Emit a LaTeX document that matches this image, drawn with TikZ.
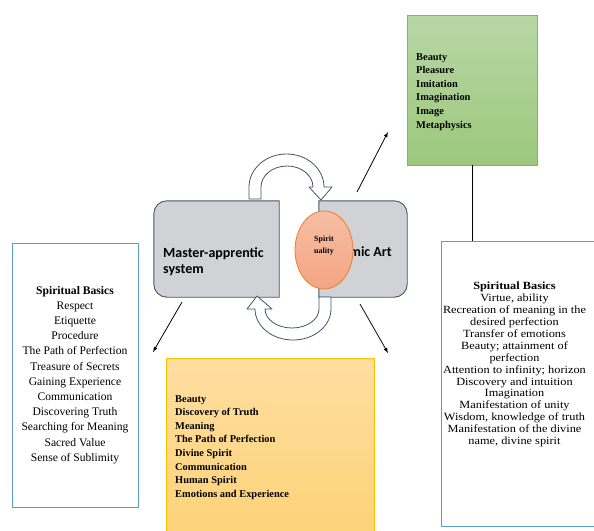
\documentclass[tikz,border=0pt]{standalone}
\usepackage{fontspec}
\setmainfont{Liberation Serif}
\newfontfamily\calibfont{Carlito}
\newfontfamily\widefont[FakeStretch=1.12]{Liberation Serif}
\usetikzlibrary{shapes}
\definecolor{slate}{RGB}{68,84,106}
\definecolor{boxgray}{RGB}{208,210,214}
\definecolor{lineblue}{RGB}{91,155,213}
\definecolor{greentop}{RGB}{184,215,166}
\definecolor{greenbot}{RGB}{156,200,124}
\definecolor{greenline}{RGB}{130,180,100}
\definecolor{goldtop}{RGB}{254,222,160}
\definecolor{goldbot}{RGB}{253,210,120}
\definecolor{goldline}{RGB}{255,192,0}
\definecolor{salmontop}{RGB}{247,190,165}
\definecolor{salmonbot}{RGB}{244,165,130}
\definecolor{salmonline}{RGB}{237,125,49}

\begin{document}
\begin{tikzpicture}[x=1pt,y=1pt]
    \tikzstyle{basics}=[rectangle, draw=lineblue, line width=0.8pt]
    \tikzstyle{grayblock}=[draw=slate, fill=boxgray, line width=0.9pt]
    \tikzstyle{list}=[font=\bfseries\fontsize{10.4}{13.6}\selectfont, align=left, anchor=north west, inner sep=0pt]
    \tikzstyle{uturn}=[draw=slate, fill=white, line width=0.8pt, line join=round]
    \tikzstyle{link}=[-latex, line width=0.8pt]

    \useasboundingbox (0,0) rectangle (594,-530);
    \clip (0,0) rectangle (594,-530);

    \node[basics, minimum width=126, minimum height=264, align=center, font=\fontsize{11.6}{15.2}\selectfont] (leftbasics) at (75,-375)
        {\textbf{Spiritual Basics}\\Respect\\Etiquette\\Procedure\\The Path of Perfection\\Treasure of Secrets\\Gaining Experience\\Communication\\Discovering Truth\\Searching for Meaning\\Sacred Value\\Sense of Sublimity};

    \node[basics, minimum width=156, minimum height=285] (rightbasics) at (519,-383.5) {};
    \node[align=center, font=\widefont\fontsize{11}{11.9}\selectfont] (rightlist) at (514.5,-364.5)
        {\textbf{Spiritual Basics}\\Virtue, ability\\Recreation of meaning in the\\desired perfection\\Transfer of emotions\\Beauty; attainment of\\perfection\\Attention to infinity; horizon\\Discovery and intuition\\Imagination\\Manifestation of unity\\Wisdom, knowledge of truth\\Manifestation of the divine\\name, divine spirit};

    \node[draw=greenline, top color=greentop, bottom color=greenbot, minimum width=130, minimum height=150] (forms) at (472,-90) {};
    \node[list] (formslist) at (416,-53) {Beauty\\Pleasure\\Imitation\\Imagination\\Image\\Metaphysics};

    \node[draw=goldline, line width=0.8pt, top color=goldtop, bottom color=goldbot, minimum width=208, minimum height=182] (values) at (270,-449) {};
    \node[list] (valueslist) at (175,-395) {Beauty\\Discovery of Truth\\Meaning\\The Path of Perfection\\Divine Spirit\\Communication\\Human Spirit\\Emotions and Experience};

    \draw[line width=0.8pt] (forms.south) -- (forms.south |- rightbasics.north);

    \node[minimum width=125, minimum height=96] (master) at (216.5,-249) {};
    \filldraw[grayblock] (master.north east) -- ([xshift=13]master.north west) arc[start angle=90, end angle=180, radius=13]
        -- ([yshift=13]master.south west) arc[start angle=180, end angle=270, radius=13] -- (master.south east) -- cycle;
    \node[font=\calibfont\bfseries\fontsize{14}{16.6}\selectfont, align=left, anchor=north west, inner sep=0pt] (masterlbl) at (163,-247) {Master-apprentic\\system};

    \node[minimum width=88, minimum height=96] (art) at (363,-249) {};
    \filldraw[grayblock] (art.north west) -- ([xshift=-13]art.north east) arc[start angle=90, end angle=0, radius=13]
        -- ([yshift=13]art.south east) arc[start angle=0, end angle=-90, radius=13] -- (art.south west) -- cycle;
    \node[font=\calibfont\bfseries\fontsize{14}{16.6}\selectfont, anchor=base east, inner sep=0pt] (artlbl) at (392,-256.7) {mic Art};

    \filldraw[uturn] (249,-199) -- (249,-187) arc[start angle=180, end angle=0, x radius=37.5, y radius=33]
        -- (332,-187) -- (321,-200) -- (309,-187) -- (313,-187)
        arc[start angle=0, end angle=180, x radius=26, y radius=21] -- (261,-199) -- cycle;
    \filldraw[uturn] (331,-297) -- (331,-309) arc[start angle=0, end angle=-180, x radius=38, y radius=31]
        -- (247,-309) -- (257,-296) -- (272,-309) -- (265,-309)
        arc[start angle=180, end angle=360, x radius=27, y radius=19] -- (319,-297) -- cycle;

    \node[ellipse, draw=salmonline, line width=0.8pt, top color=salmontop, bottom color=salmonbot, minimum width=58, minimum height=78, inner sep=0pt] (spirit) at (324,-250) {};
    \node[font=\bfseries\fontsize{8}{12}\selectfont, align=center, inner sep=0pt] (spiritlbl) at (324,-246) {Spirit\\uality};

    \coordinate (m1) at (182,-302);
    \coordinate (m2) at (153,-352);
    \coordinate (f1) at (357,-192);
    \coordinate (f2) at (388,-132);
    \coordinate (v1) at (360,-304);
    \coordinate (v2) at (388,-353);
    \draw[link] (m1) -- (m2);
    \draw[link] (f1) -- (f2);
    \draw[link] (v1) -- (v2);
\end{tikzpicture}
\end{document}
